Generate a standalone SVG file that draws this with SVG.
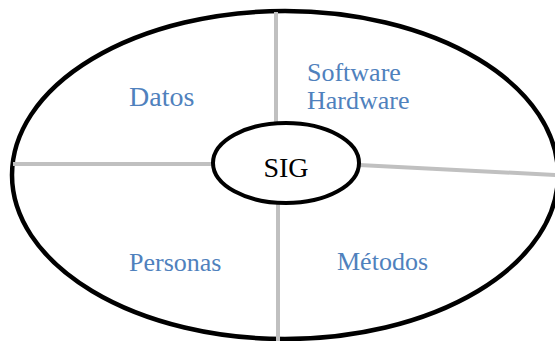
<svg xmlns="http://www.w3.org/2000/svg" width="555" height="341" viewBox="0 0 555 341">
  <style>
    .ring { fill: none; stroke: #000; stroke-width: 4.5; }
    .core { fill: #fff; stroke: #000; stroke-width: 4; }
    .divider { stroke: #c0c0c0; stroke-width: 4; fill: none; }
    .label { font-family: "Liberation Serif", "Times New Roman", serif; font-size: 26px; fill: #4f81bd; }
    .label.big { font-size: 28px; }
    .center { font-family: "Liberation Serif", "Times New Roman", serif; font-size: 28px; fill: #000; }
  </style>
  <rect width="555" height="341" fill="#fff"/>

  <!-- outer ring -->
  <g id="ring">
    <ellipse class="ring" cx="285" cy="175" rx="273" ry="164"/>
  </g>

  <!-- dividers between quadrants -->
  <g id="connectors">
    <line class="divider" x1="276" y1="12" x2="276" y2="124"/>
    <line class="divider" x1="13" y1="164" x2="213" y2="164"/>
    <line class="divider" x1="359" y1="165" x2="556" y2="175"/>
    <line class="divider" x1="278" y1="204" x2="278" y2="341"/>
  </g>

  <g id="sig">
    <ellipse class="core" cx="286" cy="163" rx="73" ry="40"/>
    <text class="center" x="286" y="177" text-anchor="middle">SIG</text>
  </g>

  <g id="datos">
    <text class="label big" x="129" y="106">Datos</text>
  </g>

  <g id="software-hardware">
    <text class="label" x="307" y="81">Software</text>
    <text class="label" x="307" y="109">Hardware</text>
  </g>

  <g id="personas">
    <text class="label" x="129" y="271">Personas</text>
  </g>

  <g id="metodos">
    <text class="label" x="337" y="270">Métodos</text>
  </g>
</svg>
